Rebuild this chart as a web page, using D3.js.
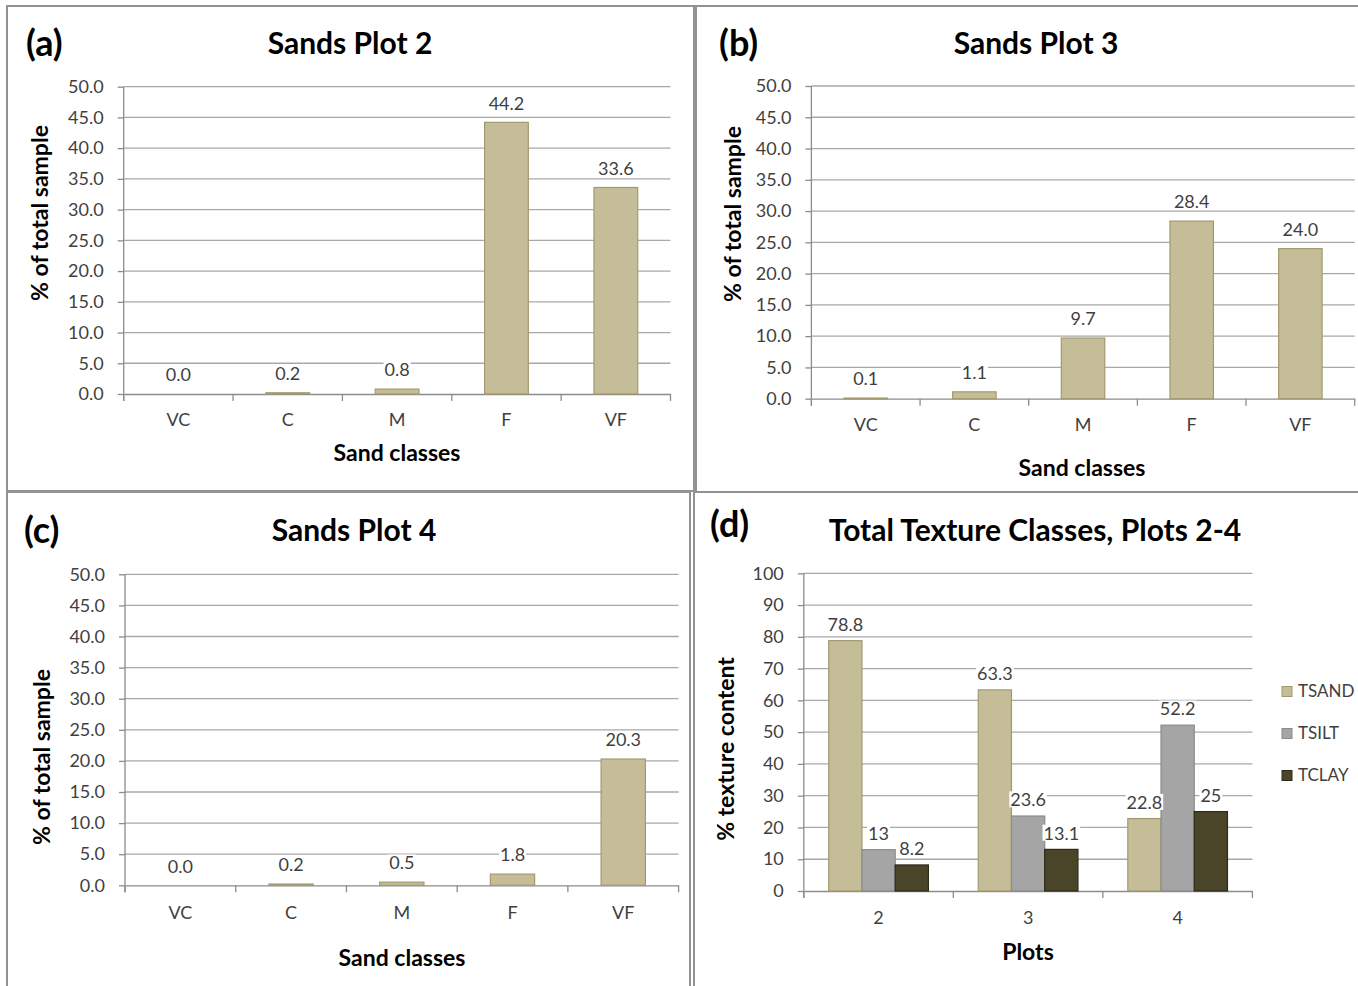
<!DOCTYPE html>
<html>
<head>
<meta charset="utf-8">
<script src="https://cdn.jsdelivr.net/npm/d3@7"></script>
<style>
body{margin:0;background:#fff;}
svg{display:block;font-family:Lato,"Open Sans",sans-serif;}
</style>
</head>
<body>
<svg id="fig" width="1358" height="986"></svg>
<script>
// sand fractions, % of total sample
var sandClasses = ["VC","C","M","F","VF"];
var plot2Sands = [0.0, 0.2, 0.8, 44.2, 33.6];
var plot3Sands = [0.1, 1.1, 9.7, 28.4, 24.0];
var plot4Sands = [0.0, 0.2, 0.5, 1.8, 20.3];
var sandTicks = [0,5,10,15,20,25,30,35,40,45,50];

// total texture classes
var plotNames = ["2","3","4"];
var textureClasses = ["TSAND","TSILT","TCLAY"];
var tsandValues = [78.8, 63.3, 22.8];
var tsiltValues = [13, 23.6, 52.2];
var tclayValues = [8.2, 13.1, 25];
var textureTicks = [0,10,20,30,40,50,60,70,80,90,100];

var fills = {TSAND:"#c4bd97", TSILT:"#a5a5a5", TCLAY:"#4a4429"};
var strokes = {TSAND:"#a29a6e", TSILT:"#8a8a8a", TCLAY:"#2e2a18"};
var gridColor = "#a8a8a8", axisColor = "#8c8c8c", textColor = "#3f3f3f";

var svg = d3.select("#fig");

// panel frames
var frames = [[7,6,687,485],[696,6,670,486],[7,492,683,500],[694,492,670,500]];
svg.selectAll("rect.frame").data(frames).join("rect")
  .attr("class","frame")
  .attr("x",function(d){return d[0];}).attr("y",function(d){return d[1];})
  .attr("width",function(d){return d[2];}).attr("height",function(d){return d[3];})
  .attr("fill","none").attr("stroke","#929292").attr("stroke-width",2);

function addLabel(g, x, y, txt){
  var t = g.append("text").attr("x",x).attr("y",y).attr("dy","0.35em")
    .attr("text-anchor","middle").attr("font-size",18).attr("fill",textColor).text(txt);
  var b = t.node().getBBox();
  g.insert("rect", function(){return t.node();})
    .attr("x",b.x-1).attr("y",b.y+3).attr("width",b.width+2).attr("height",b.height-6)
    .attr("fill","#fff");
}

function titles(g, o){
  g.append("text").attr("x",o.letterX).attr("y",o.letterY || o.titleY).attr("dy","0.35em")
    .attr("font-size",36).attr("font-weight","bold").attr("fill","#000").text(o.letter);
  g.append("text").attr("x",o.titleX).attr("y",o.titleY).attr("dy","0.35em")
    .attr("text-anchor","middle").attr("font-size",30).attr("font-weight","bold").attr("fill","#000").text(o.title);
  g.append("text").attr("transform","translate("+o.ylabX+","+o.ylabY+") rotate(-90)")
    .attr("dy","0.35em").attr("text-anchor","middle").attr("font-size",23).attr("font-weight","bold")
    .attr("fill","#000").text(o.ylab);
  g.append("text").attr("x",o.xlabX).attr("y",o.xlabY).attr("dy","0.35em")
    .attr("text-anchor","middle").attr("font-size",23).attr("font-weight","bold").attr("fill","#000").text(o.xlab);
}

function axes(g, o, x, y, ticks, fmt, nCats){
  g.selectAll("line.grid").data(ticks.slice(1)).join("line")
    .attr("class","grid")
    .attr("x1",o.left).attr("x2",o.right)
    .attr("y1",function(d){return y(d);}).attr("y2",function(d){return y(d);})
    .attr("stroke",gridColor).attr("stroke-width",1.3);

  var ya = g.append("g").attr("transform","translate("+o.left+",0)")
    .call(d3.axisLeft(y).tickValues(ticks).tickFormat(fmt).tickSize(6).tickSizeOuter(0).tickPadding(14));
  ya.select(".domain").remove();
  ya.attr("font-family",null);
  ya.selectAll("line").attr("stroke",axisColor).attr("stroke-width",1.3);
  ya.selectAll("text").attr("font-size",18).attr("fill",textColor);
  g.append("line").attr("x1",o.left).attr("x2",o.left).attr("y1",y.range()[1]).attr("y2",o.y0+7)
    .attr("stroke",axisColor).attr("stroke-width",1.3);

  var xa = g.append("g").attr("transform","translate(0,"+o.y0+")")
    .call(d3.axisBottom(x).tickSize(0).tickSizeOuter(0));
  xa.attr("font-family",null);
  xa.select(".domain").attr("stroke",axisColor).attr("stroke-width",1.3);
  xa.selectAll("text").attr("y",o.tickY - o.y0).attr("dy","0.35em")
    .attr("font-size",18).attr("fill",textColor);
  // category boundary ticks
  var bounds = d3.range(nCats+1).map(function(i){return x.range()[0] + i*x.step();});
  g.selectAll("line.xtick").data(bounds).join("line").attr("class","xtick")
    .attr("x1",function(d){return d;}).attr("x2",function(d){return d;})
    .attr("y1",o.y0).attr("y2",o.y0+7)
    .attr("stroke",axisColor).attr("stroke-width",1.3);
}

function sandPanel(o){
  var g = svg.append("g");
  var y = d3.scaleLinear().domain([0,50]).range([o.y0,o.yTop]);
  var x = d3.scaleBand().domain(sandClasses).range([o.left,o.right]);
  var xb = x.copy().paddingInner(0.6).paddingOuter(0.3);
  axes(g, o, x, y, sandTicks, d3.format(".1f"), sandClasses.length);

  var data = sandClasses.map(function(c,i){return {c:c, v:o.values[i]};});
  g.selectAll("rect.bar").data(data.filter(function(d){return d.v>0;})).join("rect")
    .attr("class","bar")
    .attr("x",function(d){return xb(d.c);}).attr("width",xb.bandwidth())
    .attr("y",function(d){return y(d.v);}).attr("height",function(d){return o.y0-y(d.v);})
    .attr("fill",fills.TSAND).attr("stroke",strokes.TSAND).attr("stroke-width",1.2);
  data.forEach(function(d){
    addLabel(g, xb(d.c)+xb.bandwidth()/2, y(d.v)-19, d3.format(".1f")(d.v));
  });
  titles(g, o);
}

sandPanel({letter:"(a)", title:"Sands Plot 2", values:plot2Sands,
  left:123.7, right:670.5, y0:394, yTop:86.7, tickY:420,
  letterX:26, titleX:350, titleY:43, ylab:"% of total sample", ylabX:40, ylabY:213,
  xlab:"Sand classes", xlabX:397, xlabY:453});
sandPanel({letter:"(b)", title:"Sands Plot 3", values:plot3Sands,
  left:811.4, right:1354.7, y0:398.7, yTop:86, tickY:425,
  letterX:719, titleX:1036, titleY:43, ylab:"% of total sample", ylabX:733, ylabY:214,
  xlab:"Sand classes", xlabX:1082, xlabY:468});
sandPanel({letter:"(c)", title:"Sands Plot 4", values:plot4Sands,
  left:125, right:678.6, y0:885.3, yTop:574.3, tickY:913,
  letterX:24, titleX:354, titleY:530, ylab:"% of total sample", ylabX:42, ylabY:757,
  xlab:"Sand classes", xlabX:402, xlabY:958});

// panel d: grouped bars
(function(){
  var o = {letter:"(d)", title:"Total Texture Classes, Plots 2-4",
    left:803.8, right:1252.4, y0:891, yTop:573.3, tickY:918,
    letterX:710, letterY:524, titleX:1035, titleY:530, ylab:"% texture content", ylabX:726, ylabY:749,
    xlab:"Plots", xlabX:1028, xlabY:952};
  var g = svg.append("g");
  var y = d3.scaleLinear().domain([0,100]).range([o.y0,o.yTop]);
  var x = d3.scaleBand().domain(plotNames).range([o.left,o.right]);
  var x0 = x.copy().paddingInner(1/3).paddingOuter(1/6);
  var x1 = d3.scaleBand().domain(textureClasses).range([0,x0.bandwidth()]);
  axes(g, o, x, y, textureTicks, d3.format("d"), plotNames.length);

  var series = {TSAND:tsandValues, TSILT:tsiltValues, TCLAY:tclayValues};
  var rows = [];
  plotNames.forEach(function(p,i){
    textureClasses.forEach(function(k){ rows.push({p:p, k:k, v:series[k][i]}); });
  });
  g.selectAll("rect.bar").data(rows).join("rect").attr("class","bar")
    .attr("x",function(d){return x0(d.p)+x1(d.k);}).attr("width",x1.bandwidth())
    .attr("y",function(d){return y(d.v);}).attr("height",function(d){return o.y0-y(d.v);})
    .attr("fill",function(d){return fills[d.k];}).attr("stroke",function(d){return strokes[d.k];})
    .attr("stroke-width",1.2);
  rows.forEach(function(d){
    addLabel(g, x0(d.p)+x1(d.k)+x1.bandwidth()/2, y(d.v)-16, String(d.v));
  });

  titles(g, o);

  // legend
  var leg = g.selectAll("g.leg").data(textureClasses).join("g").attr("class","leg")
    .attr("transform",function(d,i){return "translate(1282,"+(691.5+i*42)+")";});
  leg.append("rect").attr("x",0).attr("y",-5).attr("width",10).attr("height",10)
    .attr("fill",function(d){return fills[d];}).attr("stroke",function(d){return strokes[d];});
  leg.append("text").attr("x",16).attr("dy","0.35em").attr("font-size",17).attr("fill",textColor)
    .text(function(d){return d;});
})();
</script>
</body>
</html>
